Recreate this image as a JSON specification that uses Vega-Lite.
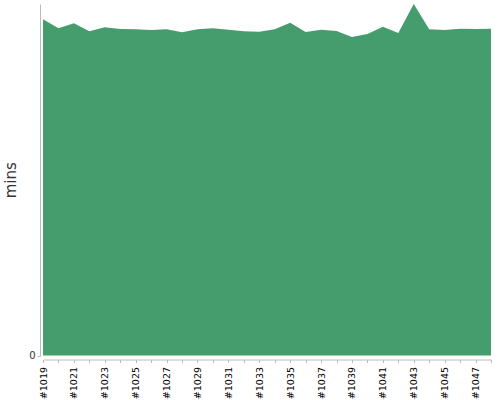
{
  "$schema": "https://vega.github.io/schema/vega-lite/v6.json",
  "width": 448,
  "height": 351.5,
  "autosize": {"type": "none"},
  "padding": {"left": 43, "top": 4, "right": 9, "bottom": 44.5},
  "config": {
    "view": {"stroke": null},
    "font": "DejaVu Sans",
    "axis": {"grid": false, "domainColor": "#bbbbbb", "tickColor": "#bbbbbb", "labelColor": "#000000", "titleColor": "#333333", "labelFont": "DejaVu Sans", "titleFont": "DejaVu Sans"}
  },
  "data": {
    "values": [
      {"build": "#1019", "mins": 33.55},
      {"build": "#1020", "mins": 32.65},
      {"build": "#1021", "mins": 33.15},
      {"build": "#1022", "mins": 32.35},
      {"build": "#1023", "mins": 32.75},
      {"build": "#1024", "mins": 32.58},
      {"build": "#1025", "mins": 32.55},
      {"build": "#1026", "mins": 32.48},
      {"build": "#1027", "mins": 32.55},
      {"build": "#1028", "mins": 32.25},
      {"build": "#1029", "mins": 32.55},
      {"build": "#1030", "mins": 32.65},
      {"build": "#1031", "mins": 32.52},
      {"build": "#1032", "mins": 32.35},
      {"build": "#1033", "mins": 32.3},
      {"build": "#1034", "mins": 32.55},
      {"build": "#1035", "mins": 33.22},
      {"build": "#1036", "mins": 32.28},
      {"build": "#1037", "mins": 32.52},
      {"build": "#1038", "mins": 32.38},
      {"build": "#1039", "mins": 31.78},
      {"build": "#1040", "mins": 32.08},
      {"build": "#1041", "mins": 32.82},
      {"build": "#1042", "mins": 32.18},
      {"build": "#1043", "mins": 35.08},
      {"build": "#1044", "mins": 32.55},
      {"build": "#1045", "mins": 32.48},
      {"build": "#1046", "mins": 32.62},
      {"build": "#1047", "mins": 32.58},
      {"build": "#1048", "mins": 32.62}
    ]
  },
  "mark": {"type": "area", "color": "#459d6d", "opacity": 1, "interpolate": "linear"},
  "encoding": {
    "x": {
      "field": "build",
      "type": "ordinal",
      "scale": {"padding": 0},
      "axis": {
        "title": null,
        "labelAngle": -90,
        "labelFontSize": 9.5,
        "labelPadding": 4,
        "tickSize": 3,
        "offset": 4,
        "labelExpr": "parseInt(substring(datum.label, 1)) % 2 == 1 ? datum.label : ''"
      }
    },
    "y": {
      "field": "mins",
      "type": "quantitative",
      "scale": {"nice": false, "domain": [0, 35.08]},
      "axis": {
        "title": "mins",
        "titleFontSize": 15,
        "titleFontWeight": "normal",
        "values": [0],
        "labelFontSize": 10,
        "labelColor": "#333333",
        "tickSize": 3,
        "offset": 3,
        "titlePadding": 10
      }
    }
  }
}
